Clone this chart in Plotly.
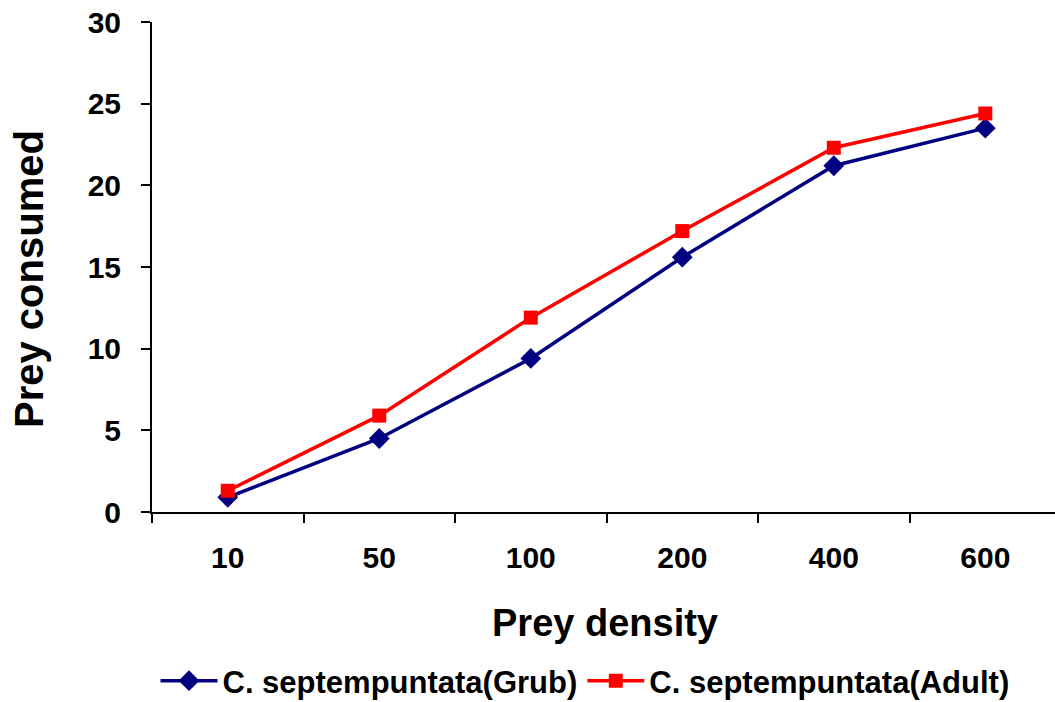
import plotly.graph_objects as go

categories = ["10", "50", "100", "200", "400", "600"]
grub = [0.9, 4.5, 9.4, 15.6, 21.2, 23.5]
adult = [1.3, 5.9, 11.9, 17.2, 22.3, 24.4]
y_ticks = [0, 5, 10, 15, 20, 25, 30]

FONT = "Arial, 'Liberation Sans', sans-serif"

fig = go.Figure()
fig.add_trace(go.Scatter(
    x=categories, y=grub, mode="lines+markers",
    name="C. septempuntata(Grub)",
    line=dict(color="#000080", width=3.5),
    marker=dict(symbol="diamond", size=16, color="#000080"),
))
fig.add_trace(go.Scatter(
    x=categories, y=adult, mode="lines+markers",
    name="C. septempuntata(Adult)",
    line=dict(color="#FF0000", width=3.5),
    marker=dict(symbol="square", size=14, color="#FF0000"),
))

fig.update_layout(
    width=1055, height=702,
    margin=dict(l=152, r=0, t=22, b=190),
    paper_bgcolor="white", plot_bgcolor="white",
    font=dict(family=FONT, color="black"),
    showlegend=True,
    legend=dict(
        orientation="h", xref="container", yref="container",
        x=585 / 1055, xanchor="center", y=(702 - 681) / 702, yanchor="middle",
        font=dict(family=FONT, size=31, color="black", weight="bold"),
        itemwidth=57, tracegroupgap=0,
    ),
    xaxis=dict(
        type="category", range=[-0.5, 5.46], tickson="boundaries",
        showline=True, linecolor="black", linewidth=2,
        ticks="outside", ticklen=9, tickwidth=2, tickcolor="black",
        showgrid=False, zeroline=False,
        tickfont=dict(family=FONT, size=30, color="black", weight="bold"),
        ticklabelstandoff=18,
    ),
    yaxis=dict(
        range=[0, 30], tickvals=y_ticks,
        showline=True, linecolor="black", linewidth=2,
        ticks="outside", ticklen=9, tickwidth=2, tickcolor="black",
        showgrid=False, zeroline=False,
        tickfont=dict(family=FONT, size=30, color="black", weight="bold"),
        ticklabelstandoff=14,
    ),
    annotations=[
        dict(text="Prey density", xref="paper", yref="paper",
             x=(605 - 152) / 903, y=(512 - 623) / 490,
             xanchor="center", yanchor="middle", showarrow=False,
             font=dict(family=FONT, size=38, color="black", weight="bold")),
        dict(text="Prey consumed", xref="paper", yref="paper",
             x=(29 - 152) / 903, y=(512 - 279) / 490, textangle=-90,
             xanchor="center", yanchor="middle", showarrow=False,
             font=dict(family=FONT, size=40, color="black", weight="bold")),
    ],
)

fig.write_html("out.html")
